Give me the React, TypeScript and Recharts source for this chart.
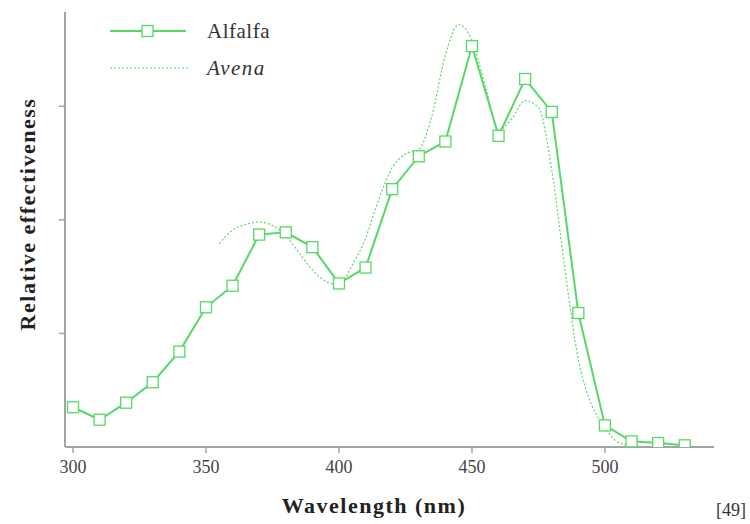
import React from "react";
import { LineChart, Line, XAxis, YAxis, Label } from "recharts";

const alfalfaWavelengths = [300, 310, 320, 330, 340, 350, 360, 370, 380, 390, 400, 410, 420, 430, 440, 450, 460, 470, 480, 490, 500, 510, 520, 530];
const alfalfaValues = [0.35, 0.24, 0.39, 0.57, 0.84, 1.23, 1.42, 1.87, 1.89, 1.76, 1.44, 1.58, 2.27, 2.56, 2.69, 3.53, 2.74, 3.24, 2.95, 1.18, 0.19, 0.05, 0.035, 0.015];

const avenaWavelengths = [355, 360, 365, 370, 375, 380, 385, 390, 395, 400, 405, 410, 415, 420, 425, 430, 435, 440, 445, 450, 455, 460, 465, 470, 475, 480, 485, 490, 495, 500, 505, 510, 520];
const avenaValues = [1.79, 1.91, 1.96, 1.98, 1.95, 1.86, 1.71, 1.56, 1.46, 1.43, 1.6, 1.84, 2.18, 2.46, 2.58, 2.62, 2.92, 3.45, 3.72, 3.58, 3.18, 2.79, 2.89, 3.05, 2.99, 2.44, 1.56, 0.77, 0.37, 0.17, 0.04, 0.01, 0.0];

const xTicks = [300, 350, 400, 450, 500];
const yTicks = [1, 2, 3];
const seriesNames = ["Alfalfa", "Avena"];

const alfalfaData = alfalfaWavelengths.map((x, i) => ({ x, y: alfalfaValues[i] }));
const avenaData = avenaWavelengths.map((x, i) => ({ x, y: avenaValues[i] }));

const GREEN = "#56d866";
const AXIS = "#a3a3a3";
const FONT = "'Liberation Serif', 'DejaVu Serif', serif";

const Square = (props: any) => {
  const { cx, cy } = props;
  if (cx == null || cy == null) return null;
  return <rect x={cx - 5.5} y={cy - 5.5} width={11} height={11} fill="#ffffff" stroke={GREEN} strokeWidth={1.3} />;
};

const XTick = (props: any) => {
  const { x, y, payload } = props;
  return (
    <text x={x} y={y + 12} textAnchor="middle" dominantBaseline="central" fontFamily={FONT} fontSize={18} fill="#444">
      {payload.value}
    </text>
  );
};

const LegendBox = () => (
  <svg width={250} height={75} style={{ position: "absolute", left: 110, top: 15 }}>
    <line x1={0} y1={16} x2={76} y2={16} stroke={GREEN} strokeWidth={2} />
    <rect x={32} y={10.5} width={11} height={11} fill="#fff" stroke={GREEN} strokeWidth={1.3} />
    <text x={97} y={16} dominantBaseline="central" fontSize={21} letterSpacing={0.5} fill="#333" fontFamily={FONT}>{seriesNames[0]}</text>
    <line x1={0} y1={53} x2={78} y2={53} stroke={GREEN} strokeWidth={1.2} strokeDasharray="2 2" />
    <text x={97} y={53} dominantBaseline="central" fontSize={21} letterSpacing={1.5} fontStyle="italic" fill="#333" fontFamily={FONT}>{seriesNames[1]}</text>
  </svg>
);

const titleStyle = { fontFamily: FONT, fontWeight: "bold" as const, fontSize: 22, fill: "#222", letterSpacing: 1.5 };

export default function App() {
  return (
    <div style={{ position: "absolute", left: 0, top: 0, width: 750, height: 524, background: "#fff", fontFamily: FONT }}>
      <LineChart width={750} height={524} margin={{ top: 12, right: 36, left: 0, bottom: 0 }}>
        <XAxis
          type="number"
          dataKey="x"
          domain={[297, 541]}
          ticks={xTicks}
          allowDataOverflow
          height={77}
          stroke={AXIS}
          strokeWidth={2}
          tickSize={6}
          tickLine={{ stroke: AXIS, strokeWidth: 1.5 }}
          tick={<XTick />}
        >
          <Label
            content={() => (
              <text x={374} y={505} textAnchor="middle" dominantBaseline="central" style={titleStyle}>
                Wavelength (nm)
              </text>
            )}
          />
        </XAxis>
        <YAxis
          type="number"
          dataKey="y"
          domain={[0, 3.83]}
          ticks={yTicks}
          allowDataOverflow
          width={65}
          stroke={AXIS}
          strokeWidth={2}
          tickSize={6}
          tickLine={{ stroke: AXIS, strokeWidth: 1.5 }}
          tickFormatter={() => ""}
        >
          <Label
            content={() => (
              <text
                transform="translate(27,214) rotate(-90)"
                textAnchor="middle"
                dominantBaseline="central"
                style={titleStyle}
              >
                Relative effectiveness
              </text>
            )}
          />
        </YAxis>
        <Line
          data={avenaData}
          dataKey="y"
          name={seriesNames[1]}
          type="monotone"
          stroke={GREEN}
          strokeWidth={1.2}
          strokeDasharray="2 2"
          dot={false}
          activeDot={false}
          isAnimationActive={false}
        />
        <Line
          data={alfalfaData}
          dataKey="y"
          name={seriesNames[0]}
          type="linear"
          stroke={GREEN}
          strokeWidth={2}
          dot={<Square />}
          activeDot={false}
          isAnimationActive={false}
        />
      </LineChart>
      <LegendBox />
      <div style={{ position: "absolute", right: 4, top: 500, fontFamily: FONT, fontSize: 18, color: "#333" }}>[49]</div>
    </div>
  );
}
